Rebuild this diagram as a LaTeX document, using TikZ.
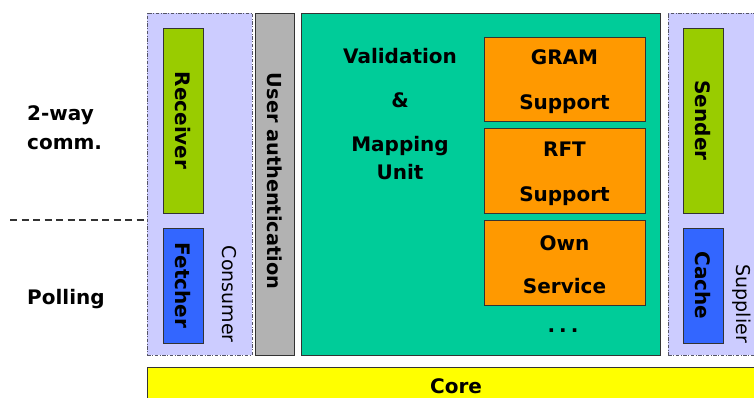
\documentclass[tikz,border=0pt]{standalone}
\usepackage{fontspec}
\setmainfont{DejaVu Sans}

\definecolor{lavender}{HTML}{CCCCFF}
\definecolor{leaf}{HTML}{99CC00}
\definecolor{azure}{HTML}{3366FF}
\definecolor{stone}{HTML}{B2B2B2}
\definecolor{teal}{HTML}{00CC99}
\definecolor{amber}{HTML}{FF9900}
\definecolor{lemon}{HTML}{FFFF00}
\definecolor{edge}{HTML}{333333}
\definecolor{grpedge}{HTML}{555566}

\tikzset{
  box/.style={draw=edge, line width=0.8pt, inner sep=0pt},
  groupbox/.style={draw=grpedge, line width=0.8pt,
    dash pattern=on 3.5pt off 1.5pt on 1pt off 1.5pt, fill=lavender, inner sep=0pt},
  boldtxt/.style={font=\bfseries\fontsize{20}{24}\selectfont, inner sep=0pt},
  plaintxt/.style={font=\fontsize{19}{23}\selectfont, inner sep=0pt},
  vert/.style={rotate=-90},
}

\begin{document}
\begin{tikzpicture}[x=1pt, y=-1pt]
  \useasboundingbox (0,0) rectangle (754,398);
  \clip (0,0) rectangle (754,398);
  \fill[white] (0,0) rectangle (754,398);

  % Consumer group
  \node[groupbox, minimum width=105, minimum height=342] (consumer) at (199.5,184) {};
  \node[box, boldtxt, vert, fill=leaf, minimum width=185, minimum height=40] (receiver) at (183,120.5) {Receiver};
  \node[box, boldtxt, vert, fill=azure, minimum width=115, minimum height=40] (fetcher) at (183,285.5) {Fetcher};
  \node[plaintxt, vert, anchor=east] (consumerlbl) at (229,343) {Consumer};

  % Authentication layer
  \node[box, fill=stone, minimum width=39, minimum height=342] (auth) at (274.5,184) {};
  \node[boldtxt, vert, font=\bfseries\fontsize{19.3}{23}\selectfont] (authlbl) at ([yshift=3pt]auth.center) {User authentication};

  % Validation and mapping unit with its service plug-ins
  \node[box, fill=teal, minimum width=359, minimum height=342] (vmu) at (480.5,184) {};
  \node[boldtxt, align=center, anchor=north, font=\bfseries\fontsize{20}{44}\selectfont] (vmulbl) at (400,48)
    {Validation\\\&\\Mapping\\[-16pt]Unit};

  \node[box, fill=amber, minimum width=161, minimum height=84] (gram) at (564.5,79) {};
  \node[boldtxt, align=center, font=\bfseries\fontsize{20}{45}\selectfont] (gramlbl) at ([yshift=-3pt]gram.center) {GRAM\\Support};
  \node[box, fill=amber, minimum width=161, minimum height=85] (rft) at (564.5,170.5) {};
  \node[boldtxt, align=center, font=\bfseries\fontsize{20}{45}\selectfont] (rftlbl) at ([yshift=-3pt]rft.center) {RFT\\Support};
  \node[box, fill=amber, minimum width=161, minimum height=85] (own) at (564.5,262.5) {};
  \node[boldtxt, align=center, font=\bfseries\fontsize{20}{43}\selectfont] (ownlbl) at ([yshift=-2pt]own.center) {Own\\Service};
  \node[boldtxt, anchor=base] (more) at (563,332) {.\kern4pt.\kern4pt.};

  % Supplier group
  \node[groupbox, minimum width=102, minimum height=342] (supplier) at (719,184) {};
  \node[box, boldtxt, vert, fill=leaf, minimum width=185, minimum height=40] (sender) at (703,120.5) {Sender};
  \node[box, boldtxt, vert, fill=azure, minimum width=115, minimum height=40] (cache) at (703,285.5) {Cache};
  \node[plaintxt, vert, anchor=east] (supplierlbl) at (742,343) {Supplier};

  % Core layer
  \node[box, fill=lemon, minimum width=623, minimum height=53] (core) at (458.5,393.5) {};
  \node[boldtxt, anchor=base] (corelbl) at (456,393) {Core};

  % Communication modes
  \node[boldtxt, align=left, anchor=north west, font=\bfseries\fontsize{20}{29}\selectfont] (twoway) at (27,105) {2-way\\comm.};
  \node[boldtxt, anchor=base west] (polling) at (27,304) {Polling};
  \coordinate (split) at (10,220);
  \draw[edge, line width=1.8pt, dash pattern=on 7pt off 4.5pt] (split) -- (split -| consumer.west);
\end{tikzpicture}
\end{document}
